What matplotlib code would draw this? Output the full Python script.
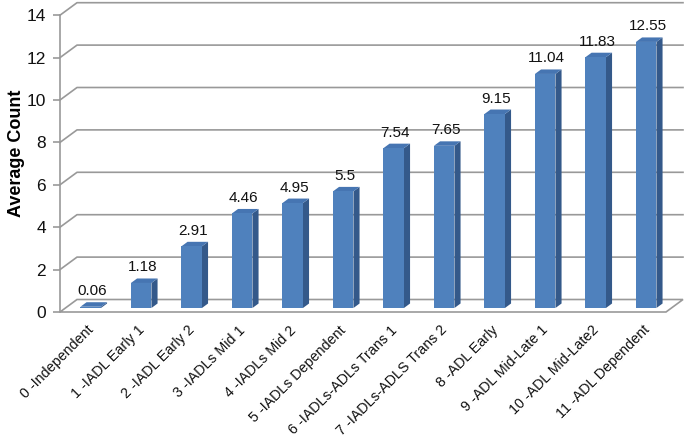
import matplotlib.pyplot as plt
from matplotlib.patches import Polygon

categories = ['0 -Independent', '1 -IADL Early 1', '2 -IADL Early 2', '3 -IADLs Mid 1',
              '4 -IADLs Mid 2', '5 -IADLs Dependent', '6 -IADLs-ADLs Trans 1',
              '7 -IADLs-ADLS Trans 2', '8 -ADL Early', '9 -ADL Mid-Late 1',
              '10 -ADL Mid-Late2', '11 -ADL Dependent']
values = [0.06, 1.18, 2.91, 4.46, 4.95, 5.5, 7.54, 7.65, 9.15, 11.04, 11.83, 12.55]
yticks = [0, 2, 4, 6, 8, 10, 12, 14]

# pixel scale of the reference: 50.5 px per category, 21.2 px per unit
PX_X = 50.5
PX_Y = 21.2
DX = 17 / PX_X      # depth of the back wall
DY = 12.5 / PX_Y
D1 = 0.32           # bar front depth (fraction of wall depth)
DD = 0.36           # bar thickness in depth
W = 20.5 / PX_X     # bar front width

grid_c = '#999999'
front_c = '#4F81BD'
side_c = '#34598A'
top_c = '#4675B2'

fig = plt.figure(figsize=(6.85, 4.44), dpi=100)
ax = fig.add_axes([60 / 685, (444 - 316) / 444, 625 / 685, 316 / 444])
ax.set_xlim(-0.5, -0.5 + 625 / PX_X)
ax.set_ylim(-4 / PX_Y, 312 / PX_Y)

# back wall gridlines
for v in yticks[1:]:
    ax.plot([-0.5, -0.5 + DX, 11.5 + DX], [v, v + DY, v + DY], color=grid_c, lw=1.2,
            clip_on=False, zorder=1)

# floor
floor = Polygon([(-0.5, 0), (11.5, 0), (11.5 + DX, DY), (-0.5 + DX, DY)], closed=True,
                facecolor='white', edgecolor=grid_c, lw=1.2, zorder=1)
ax.add_patch(floor)

# bars
for i, v in enumerate(values):
    cx = i + D1 * DX
    b = D1 * DY
    x0, x1 = cx - W / 2, cx + W / 2
    ox, oy = DD * DX, DD * DY
    ax.add_patch(Polygon([(x1, b), (x1, b + v), (x1 + ox, b + v + oy), (x1 + ox, b + oy)],
                         closed=True, facecolor=side_c, edgecolor='none', zorder=3))
    ax.add_patch(Polygon([(x0, b + v), (x1, b + v), (x1 + ox, b + v + oy), (x0 + ox, b + v + oy)],
                         closed=True, facecolor=top_c, edgecolor='none', zorder=3))
    ax.add_patch(Polygon([(x0, b), (x1, b), (x1, b + v), (x0, b + v)],
                         closed=True, facecolor=front_c, edgecolor='none', zorder=4))
    ax.text(cx + 0.03, b + v + oy + 4 / PX_Y, f'{v:g}', ha='center', va='bottom',
            fontsize=11, family='Liberation Sans', color='#111111', zorder=5)
    ax.text(cx + 0.02, (312 - 328) / PX_Y, categories[i], rotation=45, ha='right', va='center',
            rotation_mode='anchor', fontsize=10.3, family='Liberation Sans', color='#111111',
            clip_on=False)

for s in ['top', 'right', 'bottom']:
    ax.spines[s].set_visible(False)
ax.spines['left'].set_bounds(0, 14)
ax.spines['left'].set_color(grid_c)
ax.spines['left'].set_linewidth(1.2)
ax.set_xticks([])
ax.set_yticks(yticks)
ax.set_yticklabels([str(t) for t in yticks], family='Liberation Sans')
ax.tick_params(axis='y', length=5, width=1.2, color=grid_c, pad=5, labelsize=12.5,
               labelcolor='#111111')
ax.patch.set_visible(False)

fig.text(17 / 685, 1 - 153 / 444, 'Average Count', rotation=90, ha='center', va='center',
         fontsize=13, fontweight='bold', family='Liberation Sans')

fig.savefig('out.png', dpi=100)
